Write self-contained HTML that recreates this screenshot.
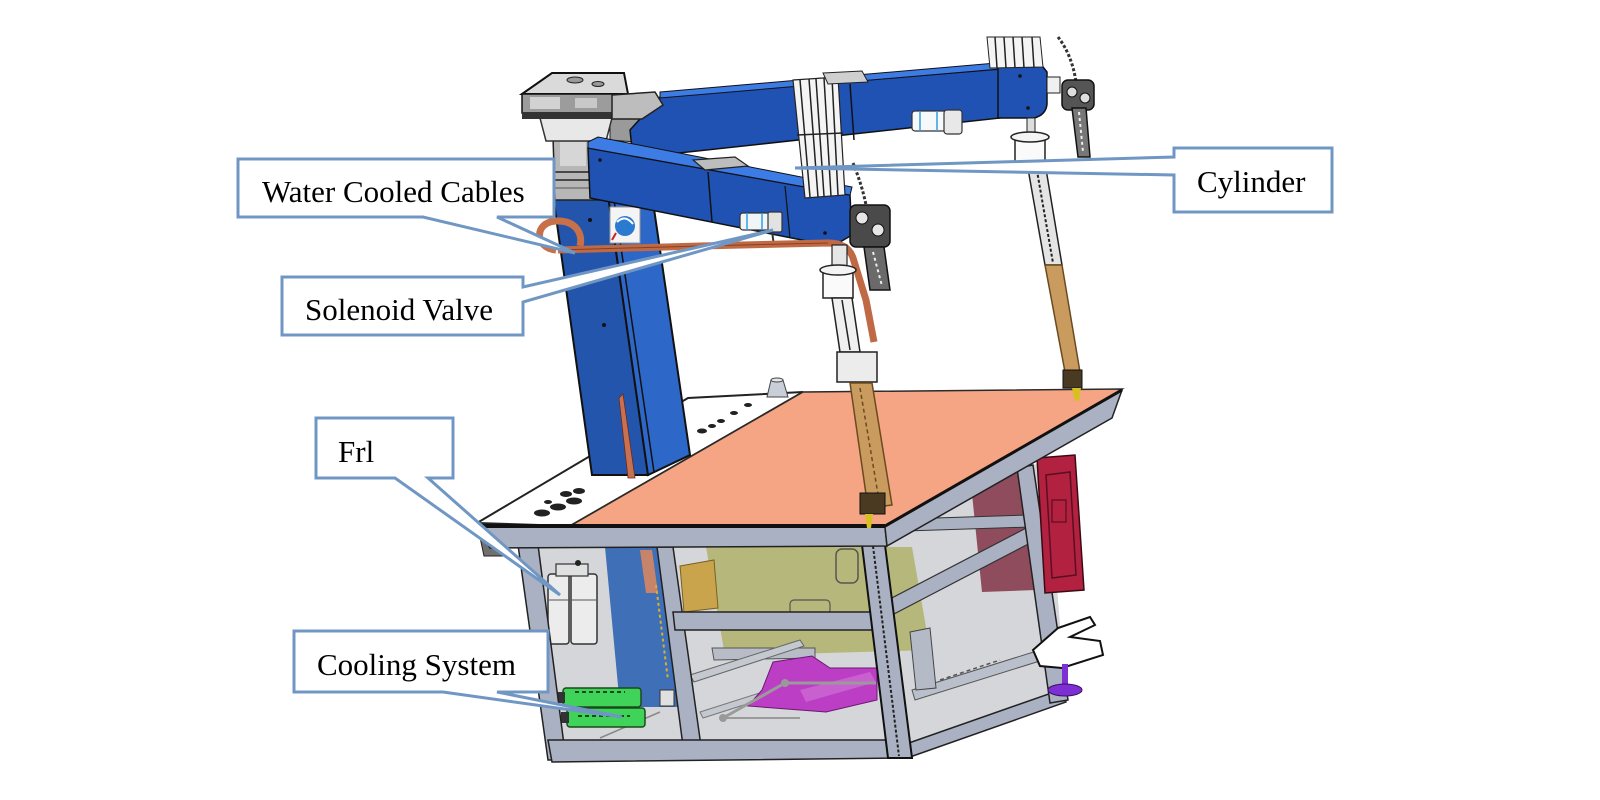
<!DOCTYPE html>
<html>
<head>
<meta charset="utf-8">
<style>
html,body{margin:0;padding:0;background:#ffffff;}
svg{display:block;}
.lbl{font-family:"Liberation Serif","Times New Roman",serif;font-size:31px;fill:#000;}
</style>
</head>
<body>
<svg width="1600" height="800" viewBox="0 0 1600 800" xmlns="http://www.w3.org/2000/svg">
<rect x="0" y="0" width="1600" height="800" fill="#ffffff"/>

<!-- ===== Underside of table ===== -->
<polygon points="518,545 887,545 1017,468 1047,462 1066,700 910,756 548,760" fill="#d4d6d9"/>
<!-- olive box -->
<polygon points="706,547 912,547 930,650 725,656" fill="#b6b87b"/>
<rect x="836" y="549" width="22" height="34" rx="6" fill="none" stroke="#555" stroke-width="1.5"/>
<rect x="790" y="600" width="40" height="14" rx="4" fill="none" stroke="#555" stroke-width="1.2"/>
<!-- ochre bracket -->
<polygon points="680,566 714,560 718,608 684,612" fill="#c9a44c" stroke="#7a6020" stroke-width="1"/>
<!-- blue panel -->
<polygon points="605,547 660,547 678,707 620,707" fill="#3f6fb6"/>
<polygon points="640,550 652,550 658,593 646,593" fill="#c8846a"/>
<line x1="656" y1="585" x2="668" y2="680" stroke="#d8b030" stroke-width="2" stroke-dasharray="3,3"/>
<!-- inner rails -->
<polygon points="712,648 815,648 815,658 714,660" fill="#b7bcc6" stroke="#555" stroke-width="1"/>
<polygon points="690,675 800,640 804,646 694,682" fill="#c4c8cf" stroke="#666" stroke-width="1"/>
<polygon points="700,712 800,680 803,686 703,718" fill="#c4c8cf" stroke="#777" stroke-width="1"/>
<line x1="600" y1="738" x2="660" y2="712" stroke="#888" stroke-width="1.5"/>
<!-- magenta part -->
<polygon points="773,662 812,656 830,668 877,668 877,700 826,712 748,706 762,690" fill="#bb3ec4" stroke="#6a1a70" stroke-width="1"/>
<polygon points="800,690 870,672 876,682 806,702" fill="#c860d0"/>
<line x1="723" y1="718" x2="785" y2="683" stroke="#9a9a9a" stroke-width="3"/>
<line x1="785" y1="683" x2="876" y2="683" stroke="#9a9a9a" stroke-width="3"/>
<line x1="723" y1="718" x2="800" y2="718" stroke="#9a9a9a" stroke-width="2"/>
<circle cx="723" cy="718" r="4" fill="#999"/>
<circle cx="785" cy="683" r="4" fill="#999"/>
<!-- maroon panel -->
<polygon points="970,474 1025,470 1036,590 982,592" fill="#8f4c5c"/>
<!-- right side rails -->
<polygon points="905,519 1028,515 1030,527 906,531" fill="#aab1c2" stroke="#333" stroke-width="1"/>
<polygon points="888,600 1030,526 1036,540 892,615" fill="#aab1c2" stroke="#333" stroke-width="1.2"/>
<polygon points="912,690 1056,645 1059,655 915,700" fill="#b9bfcb" stroke="#555" stroke-width="1"/>
<polygon points="906,744 1060,690 1066,702 910,757" fill="#aab1c2" stroke="#222" stroke-width="1.5"/>
<polygon points="910,632 930,628 936,688 916,690" fill="#b4bac6" stroke="#444" stroke-width="1"/>
<line x1="940" y1="680" x2="1000" y2="660" stroke="#555" stroke-width="1.5" stroke-dasharray="4,3"/>
<!-- right rear post -->
<polygon points="1017,468 1033,465 1068,700 1050,703" fill="#aab1c2" stroke="#222" stroke-width="1.5"/>
<!-- red electrical box -->
<polygon points="1037,458 1075,455 1084,590 1045,593" fill="#b2213f" stroke="#3a0a14" stroke-width="1.5"/>
<polygon points="1046,475 1070,472 1076,575 1052,578" fill="none" stroke="#5a0e20" stroke-width="1.5"/>
<rect x="1052" y="500" width="14" height="22" fill="none" stroke="#5a0e20" stroke-width="1.2"/>
<!-- handle bracket -->
<polygon points="1033,650 1058,628 1090,617 1095,625 1070,637 1100,641 1103,655 1062,668 1040,666" fill="#ffffff" stroke="#111" stroke-width="2"/>
<!-- purple foot -->
<rect x="1062" y="664" width="6" height="22" fill="#7d2fd4"/>
<ellipse cx="1065" cy="690" rx="17" ry="6" fill="#7d2fd4" stroke="#3a1060" stroke-width="1"/>

<!-- left panel items: FRL -->
<rect x="548" y="574" width="21" height="70" rx="3" fill="#ececec" stroke="#333" stroke-width="1.5"/>
<rect x="571" y="574" width="26" height="70" rx="3" fill="#ececec" stroke="#333" stroke-width="1.5"/>
<rect x="556" y="564" width="32" height="12" fill="#e0e0e0" stroke="#333" stroke-width="1.2"/>
<circle cx="578" cy="563" r="3" fill="#222"/>
<line x1="548" y1="600" x2="597" y2="600" stroke="#555" stroke-width="1"/>
<!-- green cooling units -->
<rect x="563" y="688" width="78" height="19" rx="3" fill="#3fd35a" stroke="#1a4a1a" stroke-width="1.5"/>
<rect x="567" y="708" width="78" height="19" rx="3" fill="#3fd35a" stroke="#1a4a1a" stroke-width="1.5"/>
<rect x="557" y="692" width="8" height="11" fill="#333"/>
<rect x="561" y="712" width="8" height="11" fill="#333"/>
<path d="M575,692 h50 M578,716 h52" stroke="#1a4a1a" stroke-width="2" stroke-dasharray="4,3"/>
<rect x="660" y="690" width="14" height="16" fill="#e0e0e0" stroke="#333" stroke-width="1"/>

<!-- frame posts and rails -->
<polygon points="518,545 538,545 566,760 548,760" fill="#aab1c2" stroke="#222" stroke-width="1.5"/>
<polygon points="657,547 673,547 701,746 683,746" fill="#aab1c2" stroke="#222" stroke-width="1.5"/>
<polygon points="673,612 872,612 874,630 675,630" fill="#aab1c2" stroke="#222" stroke-width="1.5"/>
<polygon points="548,740 902,740 906,758 552,762" fill="#aab1c2" stroke="#222" stroke-width="1.5"/>
<polygon points="862,545 885,545 912,758 888,758" fill="#aab1c2" stroke="#111" stroke-width="2"/>
<line x1="873" y1="546" x2="899" y2="756" stroke="#222" stroke-width="2" stroke-dasharray="3,2"/>
<!-- front-left dark piece -->
<polygon points="478,528 500,528 504,556 484,556" fill="#707070" stroke="#222" stroke-width="1"/>

<!-- ===== Table top ===== -->
<polygon points="477,527 885,527 887,546 490,548" fill="#aab1c2" stroke="#222" stroke-width="1.5"/>
<polygon points="885,527 1122,390 1112,418 887,546" fill="#aab1c2" stroke="#222" stroke-width="1.5"/>
<polygon points="477,523 688,398 803,392 570,526" fill="#ffffff" stroke="#222" stroke-width="2"/>
<polygon points="803,392 1122,389 885,526 570,526" fill="#f5a583" stroke="#2a2a2a" stroke-width="1.5"/>
<line x1="477" y1="526" x2="885" y2="526" stroke="#111" stroke-width="4"/>
<line x1="885" y1="526" x2="1122" y2="390" stroke="#111" stroke-width="3"/>
<!-- holes -->
<g fill="#222">
<ellipse cx="542" cy="513" rx="8" ry="3.5"/>
<ellipse cx="558" cy="507" rx="8" ry="3.5"/>
<ellipse cx="574" cy="501" rx="8" ry="3.5"/>
<ellipse cx="548" cy="502" rx="4" ry="2"/>
<ellipse cx="566" cy="494" rx="6" ry="3"/>
<ellipse cx="579" cy="491" rx="6" ry="3"/>
<ellipse cx="702" cy="431" rx="5" ry="2.5"/>
<ellipse cx="712" cy="426" rx="4" ry="2"/>
<ellipse cx="721" cy="421" rx="4" ry="2"/>
<ellipse cx="734" cy="413" rx="4" ry="2"/>
<ellipse cx="748" cy="405" rx="4" ry="2"/>
</g>
<!-- cone -->
<polygon points="771,380 783,380 788,397 767,397" fill="#c9ced8" stroke="#444" stroke-width="1"/>
<ellipse cx="777" cy="380" rx="6" ry="2" fill="#e4e6ea" stroke="#444" stroke-width="1"/>

<!-- ===== Column ===== -->
<polygon points="553,195 608,195 648,475 592,475" fill="#2455ad" stroke="#111" stroke-width="2"/>
<polygon points="608,195 652,195 690,455 648,475" fill="#2d67c8" stroke="#111" stroke-width="2"/>
<line x1="614" y1="200" x2="654" y2="472" stroke="#111" stroke-width="1.5"/>
<polygon points="619,398 623,394 635,478 628,478" fill="#c87052" stroke="#6a2a18" stroke-width="0.8"/>
<circle cx="590" cy="220" r="2" fill="#111"/>
<circle cx="604" cy="325" r="2" fill="#111"/>
<!-- logo -->
<rect x="610" y="207" width="30" height="36" fill="#f4f4f4" stroke="#999" stroke-width="1"/>
<circle cx="625" cy="226" r="10" fill="#2a7ad0"/>
<path d="M617,222 q8,-8 16,2" stroke="#fff" stroke-width="2" fill="none"/>
<line x1="612" y1="240" x2="616" y2="233" stroke="#d02020" stroke-width="2"/>
<!-- column top (grey joint) -->
<polygon points="553,137 602,137 606,200 555,200" fill="#b7b7b7" stroke="#222" stroke-width="1.5"/>
<rect x="560" y="142" width="26" height="24" fill="#d6d6d6"/>
<line x1="555" y1="172" x2="604" y2="172" stroke="#222" stroke-width="1.5"/>
<line x1="555" y1="180" x2="604" y2="180" stroke="#222" stroke-width="1.5"/>
<line x1="555" y1="188" x2="604" y2="188" stroke="#555" stroke-width="1"/>

<!-- ===== Upper arm ===== -->
<polygon points="610,117 640,117 636,142 610,140" fill="#9a9a9a" stroke="#222" stroke-width="1"/>
<polygon points="660,97 1000,69 1000,118 633,158 630,130" fill="#1f52b3" stroke="#111" stroke-width="1.5"/>
<polygon points="660,92 996,63 1000,69 660,98" fill="#3d7ce4" stroke="#111" stroke-width="1"/>
<line x1="850" y1="84" x2="854" y2="140" stroke="#111" stroke-width="1.5"/>
<path d="M998,66 L1040,63 L1047,72 L1047,104 Q1046,115 1034,118 L998,118 Z" fill="#1f52b3" stroke="#111" stroke-width="1.5"/>
<circle cx="1020" cy="76" r="1.8" fill="#111"/>
<circle cx="1028" cy="108" r="1.8" fill="#111"/>
<!-- upper solenoid -->
<rect x="912" y="111" width="34" height="20" rx="3" fill="#f6f8fa" stroke="#333" stroke-width="1.2"/>
<rect x="944" y="110" width="18" height="24" rx="3" fill="#e8e8e8" stroke="#333" stroke-width="1.2"/>
<line x1="920" y1="111" x2="920" y2="131" stroke="#30a0e0" stroke-width="1.5"/>
<line x1="937" y1="111" x2="937" y2="131" stroke="#30a0e0" stroke-width="1.5"/>
<!-- top right rails -->
<polygon points="987,37 1040,37 1043,67 990,68" fill="#f4f4f4" stroke="#222" stroke-width="1"/>
<g stroke="#222" stroke-width="1.5">
<line x1="995" y1="37" x2="997" y2="68"/><line x1="1004" y1="37" x2="1006" y2="68"/>
<line x1="1013" y1="37" x2="1015" y2="68"/><line x1="1022" y1="37" x2="1024" y2="68"/>
<line x1="1032" y1="37" x2="1034" y2="68"/>
</g>
<path d="M1058,37 Q1072,55 1076,82" stroke="#333" stroke-width="3" fill="none" stroke-dasharray="3,2"/>
<!-- right gauges -->
<rect x="1047" y="77" width="13" height="16" fill="#f0f0f0" stroke="#222" stroke-width="1"/>
<rect x="1062" y="80" width="32" height="30" rx="6" fill="#555" stroke="#111" stroke-width="1.5"/>
<circle cx="1072" cy="92" r="5" fill="#ddd" stroke="#111"/>
<circle cx="1085" cy="98" r="5" fill="#ddd" stroke="#111"/>
<polygon points="1072,108 1086,108 1090,157 1078,157" fill="#777" stroke="#111" stroke-width="1.5"/>
<line x1="1079" y1="112" x2="1083" y2="152" stroke="#eee" stroke-width="2" stroke-dasharray="3,3"/>

<!-- ===== Pendant / control box ===== -->
<polygon points="540,118 612,118 606,141 546,141" fill="#e8e8e8" stroke="#333" stroke-width="1.5"/>
<polygon points="522,94 552,73 624,73 628,94" fill="#dadada" stroke="#111" stroke-width="2"/>
<rect x="522" y="94" width="106" height="19" fill="#9c9c9c" stroke="#111" stroke-width="1.5"/>
<rect x="530" y="97" width="30" height="12" fill="#d2d2d2"/>
<rect x="575" y="98" width="22" height="10" fill="#c8c8c8"/>
<rect x="522" y="112" width="106" height="7" fill="#333"/>
<ellipse cx="575" cy="80" rx="8" ry="3" fill="#999" stroke="#222"/>
<ellipse cx="598" cy="84" rx="6" ry="2.5" fill="#999" stroke="#222"/>
<polygon points="612,95 655,92 663,105 642,119 612,119" fill="#bdbdbd" stroke="#222" stroke-width="1.5"/>

<!-- ===== Lower arm ===== -->
<polygon points="588,148 850,195 852,235 835,245 812,242 590,198" fill="#1f52b3" stroke="#111" stroke-width="1.5"/>
<polygon points="588,142 598,137 852,187 850,195 588,148" fill="#3d7ce4" stroke="#111" stroke-width="1"/>
<line x1="708" y1="172" x2="712" y2="222" stroke="#111" stroke-width="1.5"/>
<line x1="785" y1="186" x2="790" y2="238" stroke="#111" stroke-width="1.2"/>
<polygon points="693,160 735,157 748,166 705,170" fill="#bdbdbd" stroke="#222" stroke-width="1.2"/>
<circle cx="825" cy="233" r="1.8" fill="#111"/>
<circle cx="600" cy="160" r="1.8" fill="#111"/>
<!-- solenoid valve under lower arm -->
<rect x="740" y="213" width="32" height="17" rx="3" fill="#f2f5f8" stroke="#333" stroke-width="1.2"/>
<rect x="768" y="212" width="14" height="20" rx="2" fill="#e2e2e2" stroke="#333" stroke-width="1.2"/>
<line x1="747" y1="213" x2="747" y2="230" stroke="#30a0e0" stroke-width="1.5"/>
<line x1="762" y1="213" x2="762" y2="230" stroke="#30a0e0" stroke-width="1.5"/>
<line x1="772" y1="231" x2="774" y2="246" stroke="#333" stroke-width="2"/>

<!-- cylinder slide rails -->
<polygon points="793,80 838,77 845,195 805,198" fill="#f4f4f4" stroke="#222" stroke-width="1.2"/>
<g stroke="#222" stroke-width="1.5">
<line x1="800" y1="80" x2="810" y2="197"/>
<line x1="809" y1="79" x2="818" y2="197"/>
<line x1="816" y1="79" x2="824" y2="196"/>
<line x1="824" y1="78" x2="831" y2="196"/>
<line x1="832" y1="78" x2="838" y2="195"/>
<line x1="797" y1="135" x2="843" y2="133"/>
</g>
<polygon points="823,73 862,71 868,82 828,84" fill="#cfcfcf" stroke="#222" stroke-width="1"/>

<!-- gauges near lower arm end -->
<path d="M853,163 Q862,185 866,205" stroke="#333" stroke-width="3" fill="none" stroke-dasharray="3,2"/>
<rect x="850" y="205" width="40" height="42" rx="6" fill="#4a4a4a" stroke="#111" stroke-width="1.5"/>
<circle cx="862" cy="218" r="6" fill="#e6e6e6" stroke="#111"/>
<circle cx="878" cy="230" r="6" fill="#e6e6e6" stroke="#111"/>
<polygon points="864,247 884,247 890,290 870,290" fill="#6a6a6a" stroke="#111" stroke-width="1.5"/>
<line x1="873" y1="252" x2="882" y2="286" stroke="#eee" stroke-width="2" stroke-dasharray="3,3"/>

<!-- ===== Copper cable ===== -->
<path d="M556,250 C534,248 534,222 556,221 C576,220 583,234 580,246" stroke="#c87048" stroke-width="7" fill="none"/>
<path d="M558,250 L700,246 L828,243 Q848,243 853,258 L866,300 L874,342" stroke="#c06a45" stroke-width="7" fill="none" stroke-linejoin="round"/>
<path d="M558,250 L700,246 L828,243" stroke="#8a3f22" stroke-width="1" fill="none"/>

<!-- ===== Left welding gun ===== -->
<rect x="832" y="245" width="15" height="24" fill="#e6e6e6" stroke="#222" stroke-width="1.2"/>
<rect x="823" y="270" width="30" height="28" fill="#fafafa" stroke="#222" stroke-width="1.5"/>
<ellipse cx="838" cy="270" rx="18" ry="5" fill="#f4f4f4" stroke="#222" stroke-width="1.5"/>
<polygon points="832,298 852,298 860,352 840,352" fill="#f0f0f0" stroke="#222" stroke-width="1.5"/>
<line x1="842" y1="300" x2="850" y2="350" stroke="#222" stroke-width="1.5"/>
<rect x="837" y="352" width="40" height="30" fill="#ececec" stroke="#222" stroke-width="1.5"/>
<polygon points="850,383 872,383 892,505 868,508" fill="#c99b5f" stroke="#6b4a20" stroke-width="1.5"/>
<line x1="860" y1="388" x2="879" y2="500" stroke="#6b4a20" stroke-width="1.5" stroke-dasharray="4,3"/>
<rect x="860" y="493" width="25" height="21" fill="#4a3a22" stroke="#111" stroke-width="1"/>
<polygon points="865,514 873,514 871,528 867,528" fill="#d8c020"/>

<!-- ===== Right welding gun ===== -->
<rect x="1027" y="118" width="8" height="20" fill="#ddd" stroke="#222" stroke-width="1"/>
<rect x="1015" y="137" width="30" height="26" fill="#fafafa" stroke="#222" stroke-width="1.5"/>
<ellipse cx="1030" cy="137" rx="19" ry="5" fill="#f4f4f4" stroke="#222" stroke-width="1.5"/>
<polygon points="1027,163 1045,163 1062,265 1045,265" fill="#e4e4e4" stroke="#222" stroke-width="1.5"/>
<line x1="1036" y1="165" x2="1053" y2="263" stroke="#222" stroke-width="2" stroke-dasharray="3,2"/>
<polygon points="1045,265 1062,265 1080,372 1065,372" fill="#c99b5f" stroke="#6b4a20" stroke-width="1.5"/>
<rect x="1063" y="370" width="19" height="18" fill="#4a3a22" stroke="#111" stroke-width="1"/>
<polygon points="1072,388 1081,388 1079,401 1075,401" fill="#d8c020"/>

<!-- ===== Callouts ===== -->
<g fill="#ffffff" stroke="#7097c4" stroke-width="3" stroke-linejoin="miter">
<path d="M238,159 H554 V217 H497 L575,253 L423,217 H238 Z"/>
<path d="M282,277 H523 V287 L773,230 L523,302 V335 H282 Z"/>
<path d="M1174,148 H1332 V212 H1174 V175 L795,168 L1174,157 Z"/>
<path d="M316,418 H453 V478 H428 L560,595 L395,478 H316 Z"/>
<path d="M294,631 H548 V692 H497 L622,717 L443,692 H294 Z"/>
</g>
<text class="lbl" x="262" y="202">Water Cooled Cables</text>
<text class="lbl" x="305" y="320">Solenoid Valve</text>
<text class="lbl" x="1197" y="192">Cylinder</text>
<text class="lbl" x="338" y="462">Frl</text>
<text class="lbl" x="317" y="675">Cooling System</text>
</svg>
</body>
</html>
